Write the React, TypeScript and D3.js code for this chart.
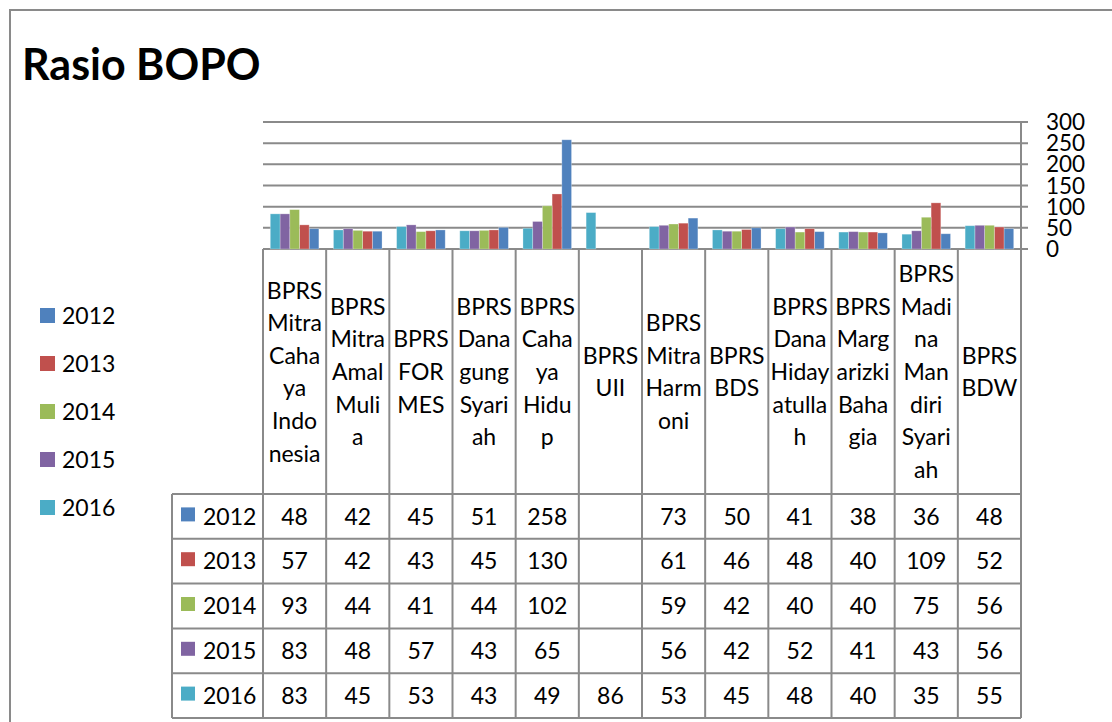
import React from 'react';
import * as d3 from 'd3';

const categories = [
  'BPRS Mitra Cahaya Indonesia', 'BPRS Mitra Amal Mulia', 'BPRS FORMES', 'BPRS Danagung Syariah',
  'BPRS Cahaya Hidup', 'BPRS UII', 'BPRS Mitra Harmoni', 'BPRS BDS', 'BPRS Dana Hidayatullah',
  'BPRS Margarizki Bahagia', 'BPRS Madina Mandiri Syariah', 'BPRS BDW',
];
const categoryLabelLines = [
  ['BPRS', 'Mitra', 'Caha', 'ya', 'Indo', 'nesia'],
  ['BPRS', 'Mitra', 'Amal', 'Muli', 'a'],
  ['BPRS', 'FOR', 'MES'],
  ['BPRS', 'Dana', 'gung', 'Syari', 'ah'],
  ['BPRS', 'Caha', 'ya', 'Hidu', 'p'],
  ['BPRS', 'UII'],
  ['BPRS', 'Mitra', 'Harm', 'oni'],
  ['BPRS', 'BDS'],
  ['BPRS', 'Dana', 'Hiday', 'atulla', 'h'],
  ['BPRS', 'Marg', 'arizki', 'Baha', 'gia'],
  ['BPRS', 'Madi', 'na', 'Man', 'diri', 'Syari', 'ah'],
  ['BPRS', 'BDW'],
];
const years = ['2012', '2013', '2014', '2015', '2016'];
const values2012 = [48, 42, 45, 51, 258, null, 73, 50, 41, 38, 36, 48];
const values2013 = [57, 42, 43, 45, 130, null, 61, 46, 48, 40, 109, 52];
const values2014 = [93, 44, 41, 44, 102, null, 59, 42, 40, 40, 75, 56];
const values2015 = [83, 48, 57, 43, 65, null, 56, 42, 52, 41, 43, 56];
const values2016 = [83, 45, 53, 43, 49, 86, 53, 45, 48, 40, 35, 55];
const seriesColors = ['#4F81BD', '#C0504D', '#9BBB59', '#8064A2', '#4BACC6'];
const yTicks = [0, 50, 100, 150, 200, 250, 300];

const seriesValues = [values2012, values2013, values2014, values2015, values2016];

const FONT = 'Lato, "Open Sans", sans-serif';
const LINE = '#8a8a8a';

export default function App() {
  const W = 1112, H = 722;
  const plotL = 263, plotR = 1021, plotTop = 122, plotBottom = 249;
  const tableTop = 494, rowH = 44.8, tableLeft = 172;
  const tableBottom = tableTop + rowH * years.length;

  const x = d3.scaleBand<string>().domain(categories).range([plotL, plotR]).paddingInner(0).paddingOuter(0);
  const bw = x.bandwidth();
  const barW = bw / 6.5;
  const inner = d3.scaleBand<string>()
    .domain([...years].reverse())
    .range([(bw - barW * 5) / 2, (bw + barW * 5) / 2]);
  const y = d3.scaleLinear().domain([0, 300]).range([plotBottom, plotTop]);

  const labelCenter = (plotBottom + tableTop) / 2;
  const lineH = 32.6;

  return (
    <svg width={W} height={H} style={{ position: 'absolute', left: 0, top: 0, background: '#fff' }} fontFamily={FONT}>
      <rect x={0} y={0} width={W} height={H} fill="#fff" />
      <rect x={10} y={10} width={1300} height={900} fill="none" stroke={LINE} strokeWidth={2} />
      <text x={22} y={80} fontSize={43} fontWeight={700} fill="#000">Rasio BOPO</text>

      {/* gridlines */}
      {yTicks.map((t) => (
        <line key={'g' + t} x1={plotL} x2={plotR + 7} y1={y(t)} y2={y(t)} stroke={LINE} strokeWidth={2} />
      ))}
      <line x1={plotR} x2={plotR} y1={plotTop} y2={tableBottom} stroke={LINE} strokeWidth={2} />
      {yTicks.map((t) => (
        <text key={'yl' + t} x={1046} y={y(t)} dy="0.36em" fontSize={22.5} fill="#000">{t}</text>
      ))}

      {/* bars */}
      {categories.map((c, ci) => (
        <g key={'c' + ci} transform={`translate(${x(c)},0)`}>
          {years.map((yr, si) => {
            const v = seriesValues[si][ci];
            if (v == null) return null;
            return (
              <rect key={yr} x={inner(yr)} y={y(v)} width={barW} height={y(0) - y(v)}
                fill={seriesColors[si]} stroke="#ffffff" strokeOpacity={0.35} strokeWidth={0.8} />
            );
          })}
        </g>
      ))}

      {/* category separators and table */}
      {[...categories.map((c) => x(c) as number), plotR].map((xx, i) => (
        <line key={'v' + i} x1={xx} x2={xx} y1={plotBottom} y2={tableBottom} stroke={LINE} strokeWidth={2} />
      ))}
      <line x1={tableLeft} x2={tableLeft} y1={tableTop} y2={tableBottom} stroke={LINE} strokeWidth={2} />
      {d3.range(years.length + 1).map((i) => (
        <line key={'h' + i} x1={tableLeft} x2={plotR} y1={tableTop + i * rowH} y2={tableTop + i * rowH} stroke={LINE} strokeWidth={2} />
      ))}

      {/* category labels */}
      {categories.map((c, ci) => {
        const lines = categoryLabelLines[ci];
        const cx = (x(c) as number) + bw / 2;
        return (
          <text key={'cl' + ci} fontSize={23} textAnchor="middle" fill="#000">
            {lines.map((ln, li) => (
              <tspan key={li} x={cx} y={labelCenter + 8.5 + (li - (lines.length - 1) / 2) * lineH}>{ln}</tspan>
            ))}
          </text>
        );
      })}

      {/* table rows */}
      {years.map((yr, si) => {
        const cy = tableTop + (si + 0.5) * rowH;
        return (
          <g key={'r' + yr}>
            <rect x={181} y={cy - 9} width={14} height={14} fill={seriesColors[si]} />
            <text x={203} y={cy} dy="0.36em" fontSize={23} fill="#000">{yr}</text>
            {categories.map((c, ci) => {
              const v = seriesValues[si][ci];
              if (v == null) return null;
              return (
                <text key={ci} x={(x(c) as number) + bw / 2} y={cy} dy="0.36em" fontSize={23} textAnchor="middle" fill="#000">{v}</text>
              );
            })}
          </g>
        );
      })}

      {/* legend */}
      {years.map((yr, si) => {
        const cy = 316 + si * 48;
        return (
          <g key={'lg' + yr}>
            <rect x={40} y={cy - 8} width={15} height={15} fill={seriesColors[si]} />
            <text x={62} y={cy} dy="0.36em" fontSize={23} fill="#000">{yr}</text>
          </g>
        );
      })}
    </svg>
  );
}
